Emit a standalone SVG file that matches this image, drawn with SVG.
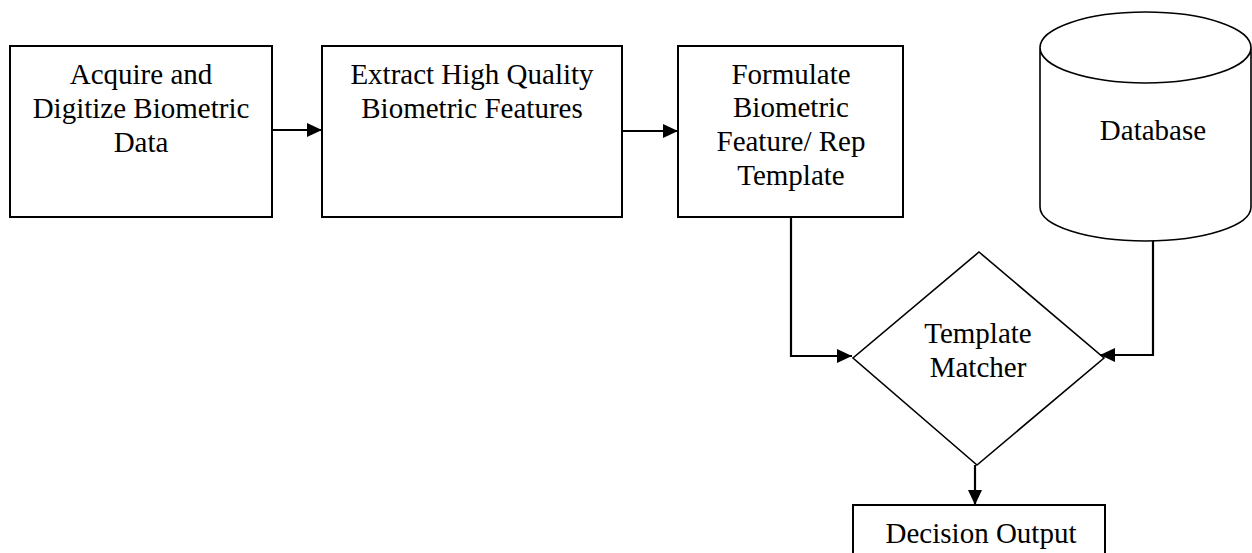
<svg xmlns="http://www.w3.org/2000/svg" width="1252" height="553" viewBox="0 0 1252 553">
<style>
.box{fill:#fff;stroke:#000;stroke-width:2}
.shape{fill:#fff;stroke:#000;stroke-width:1.6}
.conn{fill:none;stroke:#000;stroke-width:2.2}
text{font-family:"Liberation Serif","Times New Roman",serif;font-size:29px;fill:#000;text-anchor:middle}
</style>
<defs>
<marker id="arr" markerUnits="userSpaceOnUse" markerWidth="16" markerHeight="14" refX="15" refY="7" orient="auto">
<path d="M0,0 L15,7 L0,14 z" fill="#000"/>
</marker>
</defs>
<rect width="1252" height="553" fill="#fff"/>
<g id="acquire">
<rect class="box" x="10" y="46" width="262" height="171"/>
<text x="141" y="84">Acquire and</text>
<text x="141" y="118">Digitize Biometric</text>
<text x="141" y="152">Data</text>
</g>
<g id="extract">
<rect class="box" x="322" y="46" width="300" height="171"/>
<text x="472" y="84">Extract High Quality</text>
<text x="472" y="118">Biometric Features</text>
</g>
<g id="formulate">
<rect class="box" x="678" y="46" width="225" height="171"/>
<text x="791" y="84">Formulate</text>
<text x="791" y="117">Biometric</text>
<text x="791" y="151">Feature/ Rep</text>
<text x="791" y="185">Template</text>
</g>
<g id="database">
<path class="shape" d="M1040,47.5 L1040,207 A105.5,34 0 0 0 1251,207 L1251,47.5 A105.5,35.5 0 0 0 1040,47.5 A105.5,35.5 0 0 0 1251,47.5"/>
<text x="1153" y="140">Database</text>
</g>
<g id="matcher">
<polygon class="shape" points="979,252 1104,358 977,465 853,358"/>
<text x="978" y="343">Template</text>
<text x="978" y="377">Matcher</text>
</g>
<g id="decision">
<path class="box" d="M853,560 L853,505 L1105,505 L1105,560"/>
<text x="981" y="543">Decision Output</text>
</g>
<g id="connectors">
<line class="conn" x1="272" y1="130" x2="322" y2="130" marker-end="url(#arr)"/>
<line class="conn" x1="622" y1="131" x2="678" y2="131" marker-end="url(#arr)"/>
<polyline class="conn" points="791,217 791,356 852,356" marker-end="url(#arr)"/>
<polyline class="conn" points="1153,241 1153,355 1100,355" marker-end="url(#arr)"/>
<line class="conn" x1="975" y1="465" x2="975" y2="505" marker-end="url(#arr)"/>
</g>
</svg>
